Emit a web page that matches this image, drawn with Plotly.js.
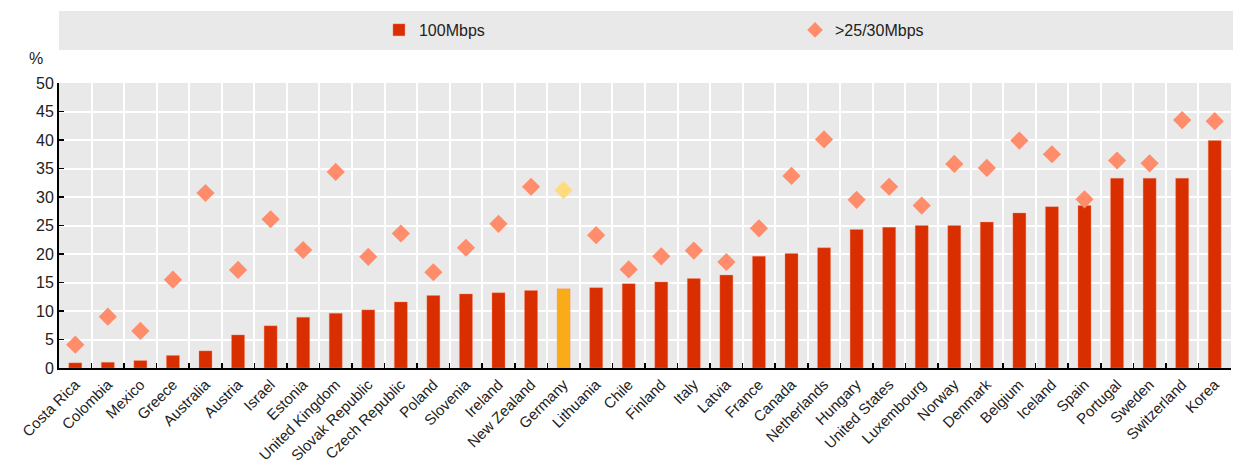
<!DOCTYPE html>
<html>
<head>
<meta charset="utf-8">
<script src="https://cdn.plot.ly/plotly-3.0.1.min.js"></script>
<style>html,body{margin:0;padding:0;background:#fff;}#chart{width:1233px;height:466px;}</style>
</head>
<body>
<div id="chart"></div>
<script>
const countries = ["Costa Rica","Colombia","Mexico","Greece","Australia","Austria","Israel","Estonia","United Kingdom","Slovak Republic","Czech Republic","Poland","Slovenia","Ireland","New Zealand","Germany","Lithuania","Chile","Finland","Italy","Latvia","France","Canada","Netherlands","Hungary","United States","Luxembourg","Norway","Denmark","Belgium","Iceland","Spain","Portugal","Sweden","Switzerland","Korea"];
const mbps100 = [0.9,1.0,1.3,2.2,3.0,5.8,7.4,8.9,9.6,10.2,11.6,12.7,13.0,13.2,13.6,13.9,14.1,14.8,15.1,15.7,16.3,19.6,20.1,21.1,24.3,24.7,25.0,25.0,25.6,27.2,28.3,28.5,33.3,33.3,33.3,39.9];
const mbps25 = [4.1,9.0,6.5,15.5,30.7,17.2,26.1,20.7,34.4,19.5,23.6,16.8,21.1,25.3,31.8,31.2,23.3,17.3,19.6,20.6,18.6,24.5,33.7,40.1,29.5,31.8,28.5,35.8,35.1,39.9,37.5,29.6,36.4,35.9,43.5,43.3];
const highlight = "Germany";

const barColors = countries.map(c => c === highlight ? "#FAAB18" : "#D92E00");
const dotColors = countries.map(c => c === highlight ? "#FFDB80" : "#FF8C6A");

const traces = [
  {type:"bar", name:"100Mbps", x:countries, y:mbps100, width:0.4, legend:"legend",
   marker:{color:barColors, line:{color:"rgba(255,140,110,0.6)", width:0.6}}},
  {type:"scatter", mode:"markers", name:">25/30Mbps", x:countries, y:mbps25, legend:"legend2",
   marker:{symbol:"diamond", size:14, color:dotColors}}
];

const legendFont = {size:16, color:"#222"};
const layout = {
  width:1233, height:466,
  margin:{l:59, r:2, t:83, b:98},
  paper_bgcolor:"#ffffff", plot_bgcolor:"#E9E9E9",
  font:{family:"Liberation Sans, Arial, sans-serif", color:"#222", size:16},
  showlegend:true,
  legend:{orientation:"h", x:0.273, xanchor:"left", y:1.186, yanchor:"middle",
          bgcolor:"rgba(0,0,0,0)", font:legendFont},
  legend2:{orientation:"h", x:0.628, xanchor:"left", y:1.186, yanchor:"middle",
          bgcolor:"rgba(0,0,0,0)", font:legendFont, itemsizing:"constant"},
  xaxis:{type:"category", tickson:"boundaries", ticks:"inside", ticklen:5, tickcolor:"#000", tickwidth:1.5,
         showgrid:true, gridcolor:"#ffffff", gridwidth:2, tickangle:-45,
         showline:true, linecolor:"#000", linewidth:2, tickfont:{size:15, color:"#222"},
         range:[-0.5, countries.length-0.5], fixedrange:true},
  yaxis:{range:[0,50], dtick:5, ticks:"inside", ticklen:5, tickcolor:"#000", tickwidth:1.5,
         showgrid:true, gridcolor:"#ffffff", gridwidth:2, zeroline:false,
         showline:true, linecolor:"#000", linewidth:2, tickfont:{size:16, color:"#222"}},
  shapes:[{type:"rect", xref:"paper", yref:"paper", x0:0, x1:1.002, y0:1.1158, y1:1.2526,
           fillcolor:"#E9E9E9", line:{width:0}, layer:"below"}],
  annotations:[{text:"%", xref:"paper", yref:"paper", x:-0.02, y:1.05, xanchor:"center", yanchor:"bottom",
                showarrow:false, font:{size:16, color:"#222"}}]
};

Plotly.newPlot("chart", traces, layout, {displayModeBar:false, staticPlot:true});
</script>
</body>
</html>
